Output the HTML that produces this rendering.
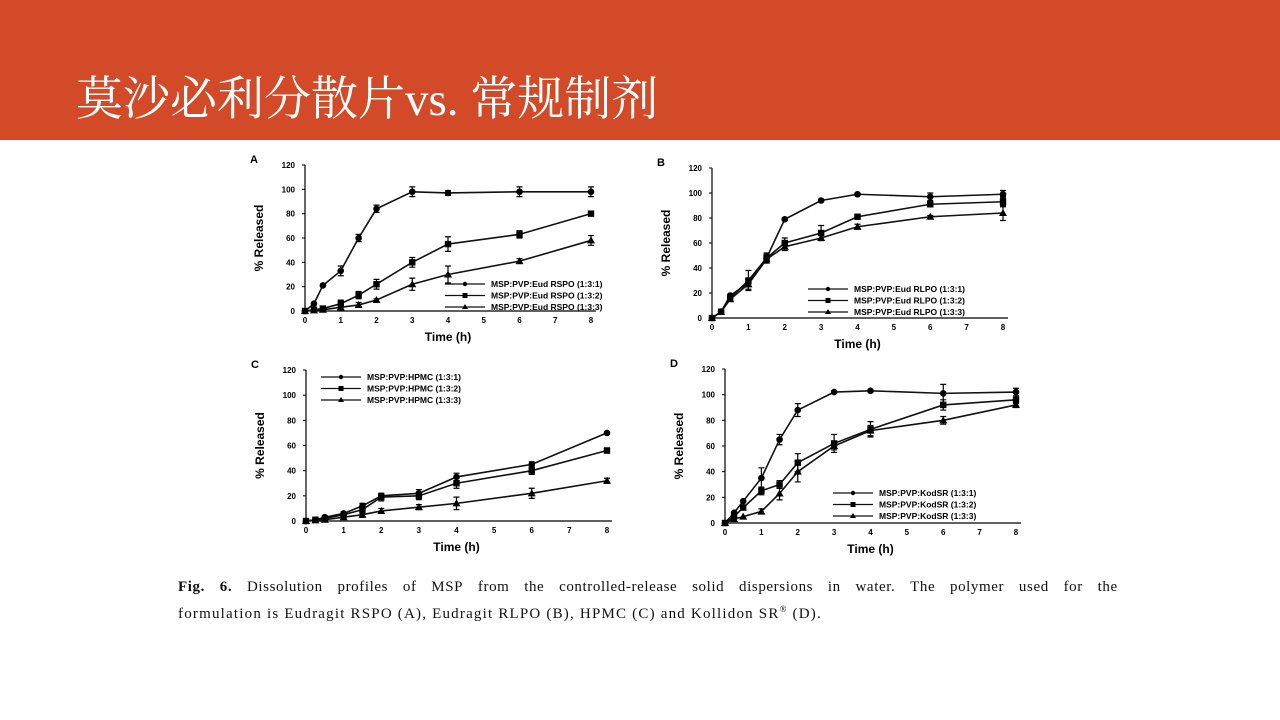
<!DOCTYPE html>
<html><head><meta charset="utf-8"><style>
body{margin:0;width:1280px;height:720px;overflow:hidden;background:#fff;position:relative;font-family:"Liberation Sans",sans-serif}
#hd{position:absolute;left:0;top:0;width:1280px;height:140px;background:#d24a27}
#tt{position:absolute;left:76px;top:72px;color:#fff;font:47px/56px "Liberation Serif","Noto Serif CJK SC",serif;white-space:nowrap}
#cap{position:absolute;left:178px;top:576px;width:940px;font:15px "Liberation Serif",serif;color:#111;line-height:22px;letter-spacing:1.2px}
#cap .l1{white-space:nowrap;display:flex;justify-content:space-between;letter-spacing:0.6px}
svg{position:absolute;left:0;top:0}
</style></head><body>
<div id="hd"></div><div id="tt">莫沙必利分散片vs. 常规制剂</div>
<svg id="s" width="1280" height="720" font-family="Liberation Sans,sans-serif"></svg>
<div id="cap"><div class="l1"><b>Fig.</b><b>6.</b><span>Dissolution</span><span>profiles</span><span>of</span><span>MSP</span><span>from</span><span>the</span><span>controlled-release</span><span>solid</span><span>dispersions</span><span>in</span><span>water.</span><span>The</span><span>polymer</span><span>used</span><span>for</span><span>the</span></div><div>formulation is Eudragit RSPO (A), Eudragit RLPO (B), HPMC (C) and Kollidon SR<sup style="font-size:9px">®</sup> (D).</div></div>
<script>
var s=document.getElementById('s'),h='';
var T=[0,0.25,0.5,1,1.5,2,3,4,6,8];
function chart(L,x0,x8,y0,y120,ser,leg,lx,ly,errs){
 var X=t=>x0+(x8-x0)*t/8,Y=v=>y0-(y0-y120)*v/120;
 h+='<text x="'+(x0-55)+'" y="'+(y120-2)+'" font-size="11" font-weight="bold">'+L+'</text>';
 h+='<path d="M'+x0+' '+y120+'V'+y0+'H'+(x8+5)+'" stroke="#000" fill="none" stroke-width="1.2"/>';
 for(var v=0;v<=120;v+=20){h+='<text x="'+(x0-10)+'" y="'+(Y(v)+3)+'" font-size="8" font-weight="bold" text-anchor="end">'+v+'</text><line x1="'+(x0-3)+'" x2="'+x0+'" y1="'+Y(v)+'" y2="'+Y(v)+'" stroke="#000"/>';}
 for(var t=0;t<=8;t++){h+='<text x="'+X(t)+'" y="'+(y0+12)+'" font-size="8" font-weight="bold" text-anchor="middle">'+t+'</text>';}
 h+='<text x="'+((x0+x8)/2)+'" y="'+(y0+30)+'" font-size="12" font-weight="bold" text-anchor="middle">Time (h)</text>';
 h+='<text transform="translate('+(x0-42)+','+((y0+y120)/2)+') rotate(-90)" font-size="12" font-weight="bold" text-anchor="middle">% Released</text>';
 ser.forEach(function(d,k){
  var p=T.map((t,i)=>X(t)+','+Y(d[i])).join(' ');
  h+='<polyline points="'+p+'" fill="none" stroke="#111" stroke-width="1.6"/>';
  T.forEach(function(t,i){var x=X(t),y=Y(d[i]);
   if(k==0)h+='<circle cx="'+x+'" cy="'+y+'" r="3.3"/>';else if(k==1)h+='<rect x="'+(x-3.2)+'" y="'+(y-3.2)+'" width="6.4" height="6.4"/>';else h+='<path d="M'+x+' '+(y-4)+'L'+(x+4)+' '+(y+3)+'L'+(x-4)+' '+(y+3)+'Z"/>';
   var e=(errs&&errs[k]&&errs[k][i])||2; if(i>2){h+='<path d="M'+(x-3)+' '+Y(d[i]+e)+'h6M'+x+' '+Y(d[i]+e)+'V'+Y(d[i]-e)+'M'+(x-3)+' '+Y(d[i]-e)+'h6" stroke="#000" stroke-width="1.2"/>';}
  });
  var yy=ly+k*11.5;
  h+='<line x1="'+lx+'" x2="'+(lx+40)+'" y1="'+yy+'" y2="'+yy+'" stroke="#111" stroke-width="1.3"/>';
  var cx=lx+20; if(k==0)h+='<circle cx="'+cx+'" cy="'+yy+'" r="2.2"/>';else if(k==1)h+='<rect x="'+(cx-2.5)+'" y="'+(yy-2.5)+'" width="5" height="5"/>';else h+='<path d="M'+cx+' '+(yy-3)+'l3 5h-6z"/>';
  h+='<text x="'+(lx+46)+'" y="'+(yy+3)+'" font-size="8.5" font-weight="bold">'+leg.replace('#',k+1)+'</text>';
 });
}
chart('A',305,591,311,165,[[0,6,21,33,60,84,98,97,98,98],[0,1,2,6,13,22,40,55,63,80],[0,0.5,1,3,5,9,22,30,41,58]],'MSP:PVP:Eud RSPO (1:3:#)',445,284,[[0,0,0,4,3,3,4,2,4,4],[0,0,0,3,3,4,4,6,3,1],[0,0,0,2,2,1,5,7,2,4]]);
chart('B',712,1003,318,168,[[0,5,18,28,48,79,94,99,97,99],[0,5,16,30,48,60,68,81,91,93],[0,5,15,27,47,57,64,73,81,84]],'MSP:PVP:Eud RLPO (1:3:#)',808,289,[[0,0,0,3,3,1,1,1,3,3],[0,0,0,8,4,4,6,1,2,4],[0,0,0,4,3,3,2,2,1,6]]);
chart('C',306,607,521,370,[[0,1,3,6,12,20,22,35,45,70],[0,1,2,5,9,19,20,30,40,56],[0,0.5,1,3,5,8,11,14,22,32]],'MSP:PVP:HPMC (1:3:#)',321,377,[[0,0,0,1,2,2,3,3,2,1],[0,0,0,2,3,3,3,4,3,2],[0,0,0,1,2,2,2,5,4,2]]);
chart('D',725,1016,523,369,[[0,8,17,35,65,88,102,103,101,102],[0,5,12,25,30,47,62,73,92,96],[0,3,5,9,23,40,60,72,80,92]],'MSP:PVP:KodSR (1:3:#)',833,493,[[0,0,0,8,4,5,1,1,7,3],[0,0,0,3,3,7,7,6,4,3],[0,0,0,2,5,8,3,4,3,2]]);
s.innerHTML=h;
</script>
</body></html>
